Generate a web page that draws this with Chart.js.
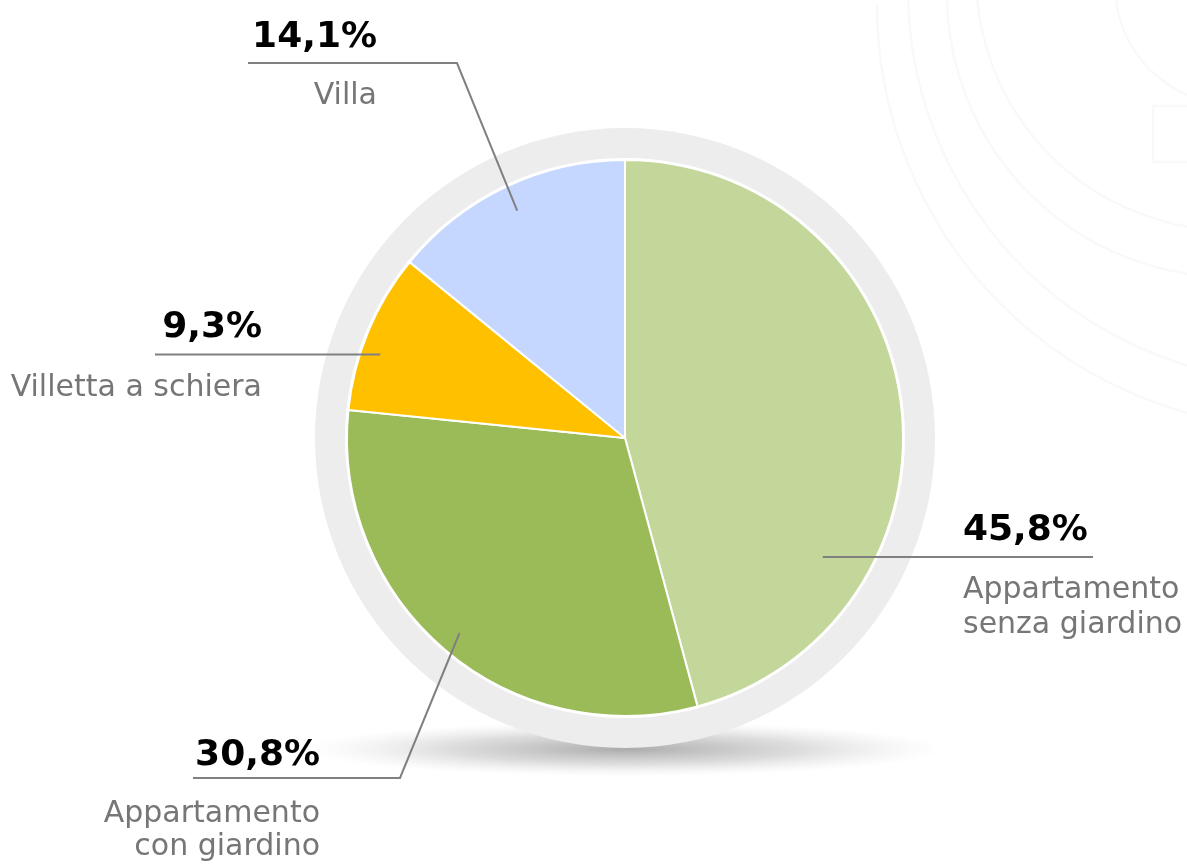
<!DOCTYPE html>
<html>
<head>
<meta charset="utf-8">
<script src="https://cdn.jsdelivr.net/npm/chart.js@4"></script>
<style>
  html, body { margin: 0; padding: 0; background: #fff; }
  #wrap { width: 1187px; height: 865px; position: relative; }
</style>
</head>
<body>
<div id="wrap"><canvas id="myChart"></canvas></div>
<script>
    // donnees du graphique
    var categories = ['Appartamento senza giardino', 'Appartamento con giardino', 'Villetta a schiera', 'Villa'];
    var values = [45.8, 30.8, 9.3, 14.1];
    var colors = ['#C4D79B', '#9BBB59', '#FFC000', '#C5D7FE'];
    // etiquettes : nom sur une ou deux lignes
    var nameLines = [['Appartamento', 'senza giardino'], ['Appartamento', 'con giardino'], ['Villetta a schiera'], ['Villa']];

    // mise en page des etiquettes (position du point d'ancrage dans la part, coude, texte)
    var labelLayout = [
        { frac: 0.734, rad: 0.83, elbow: null, endX: 1093, align: 'left', textX: 963, pctY: 540, nameY: [598, 633] },
        { frac: 0.5, rad: 0.92, elbow: [400, 778], endX: 193, align: 'right', textX: 320, pctY: 765, nameY: [822, 855] },
        { frac: 0.39, rad: 0.93, elbow: null, endX: 155, align: 'right', textX: 262, pctY: 337, nameY: [396] },
        { frac: 0.5, rad: 0.905, elbow: [457, 63], endX: 248, align: 'right', textX: 377, pctY: 47, nameY: [104] }
    ];

    function fmt(v) {
        return v.toFixed(1).replace('.', ',') + '%';
    }

    // fond : arcs tres pales en haut a droite
    var bgPlugin = {
        id: 'bgDeco',
        beforeDraw: function (chart) {
            var c = chart.ctx;
            c.save();
            c.strokeStyle = '#f9f9f9';
            c.lineWidth = 2.5;
            var arcs = [[1300, 5, 423], [1300, -10, 392], [1230, -6, 283], [1230, -24, 254], [1235, -15, 120]];
            arcs.forEach(function (a) {
                c.beginPath();
                c.arc(a[0], a[1], a[2], 0, Math.PI);
                c.stroke();
            });
            c.strokeRect(1153, 106, 40, 56);
            c.restore();
        }
    };

    // anneau gris + ombre sous le camembert
    var ringPlugin = {
        id: 'ring',
        beforeDatasetsDraw: function (chart) {
            var arc = chart.getDatasetMeta(0).data[0];
            if (!arc) return;
            var c = chart.ctx;
            var x = arc.x, y = arc.y, r = arc.outerRadius;
            c.save();
            // ombre
            c.save();
            c.translate(x, y + r + 33);
            c.scale(1, 0.085);
            var g = c.createRadialGradient(0, 0, 0, 0, 0, r * 1.15);
            g.addColorStop(0, 'rgba(150,150,150,0.8)');
            g.addColorStop(0.55, 'rgba(170,170,170,0.4)');
            g.addColorStop(1, 'rgba(210,210,210,0)');
            c.fillStyle = g;
            c.beginPath();
            c.arc(0, 0, r * 1.15, 0, Math.PI * 2);
            c.fill();
            c.restore();
            // anneau
            c.fillStyle = '#EDEDED';
            c.beginPath();
            c.arc(x, y, r + 32, 0, Math.PI * 2);
            c.fill();
            c.fillStyle = '#ffffff';
            c.beginPath();
            c.arc(x, y, r + 2, 0, Math.PI * 2);
            c.fill();
            c.restore();
        }
    };

    // lignes de rappel + textes
    var labelPlugin = {
        id: 'leaders',
        afterDatasetsDraw: function (chart) {
            var meta = chart.getDatasetMeta(0);
            var c = chart.ctx;
            c.save();
            meta.data.forEach(function (arc, i) {
                var L = labelLayout[i];
                var ang = arc.startAngle + (arc.endAngle - arc.startAngle) * L.frac;
                var ax = arc.x + Math.cos(ang) * arc.outerRadius * L.rad;
                var ay = arc.y + Math.sin(ang) * arc.outerRadius * L.rad;
                c.strokeStyle = '#808080';
                c.lineWidth = 2;
                c.beginPath();
                c.moveTo(ax, ay);
                var lineY = ay;
                if (L.elbow) {
                    c.lineTo(L.elbow[0], L.elbow[1]);
                    lineY = L.elbow[1];
                }
                c.lineTo(L.endX, lineY);
                c.stroke();

                c.textAlign = L.align;
                c.textBaseline = 'alphabetic';
                c.fillStyle = '#000000';
                c.font = 'bold 36px "DejaVu Sans"';
                c.fillText(fmt(values[i]), L.textX, L.pctY);
                c.fillStyle = '#767676';
                c.font = '30px "DejaVu Sans"';
                nameLines[i].forEach(function (t, k) {
                    c.fillText(t, L.textX, L.nameY[k]);
                });
            });
            c.restore();
        }
    };

    var ctx = document.getElementById('myChart').getContext('2d');
    var myChart = new Chart(ctx, {
        type: 'pie',
        data: {
            labels: categories,
            datasets: [{
                data: values,
                backgroundColor: colors,
                borderColor: '#ffffff',
                borderWidth: 2
            }]
        },
        options: {
            responsive: true,
            maintainAspectRatio: false,
            animation: false,
            layout: {
                padding: { top: 159, bottom: 148, left: 346, right: 283 }
            },
            plugins: {
                legend: { display: false },
                tooltip: { enabled: false }
            }
        },
        plugins: [bgPlugin, ringPlugin, labelPlugin]
    });
</script>
</body>
</html>
